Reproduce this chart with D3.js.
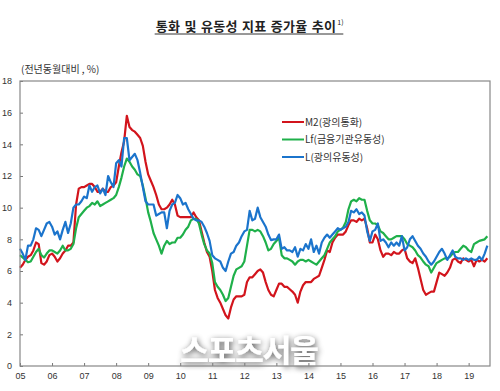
<!DOCTYPE html>
<html>
<head>
<meta charset="utf-8">
<script src="https://cdn.jsdelivr.net/npm/d3@7"></script>
<style>
  body { margin: 0; background: #fff; }
  svg { display: block; font-family: "Noto Sans CJK KR", "Noto Sans", sans-serif; }
  .axis text { font-size: 9px; fill: #333; font-family: "Liberation Sans", Arial, sans-serif; }
  .axis path { display: none; }
  .axis line { stroke: #777; }
</style>
</head>
<body>
<div id="chart"></div>
<script>
// Chart Params
var svgWidth = 500;
var svgHeight = 391;

var margin = { top: 81, right: 10, bottom: 25, left: 20 };
var width = svgWidth - margin.left - margin.right;
var height = svgHeight - margin.top - margin.bottom;

// monthly yoy growth, Jan 2005 .. Aug 2019
var yearLabels = ["05", "06", "07", "08", "09", "10", "11", "12", "13", "14", "15", "16", "17", "18", "19"];
var seriesNames = ["M2(광의통화)", "Lf(금융기관유동성)", "L(광의유동성)"];
var seriesColors = ["#d2141c", "#1fb04a", "#1b74cc"];

var m2 = [
  6.2, 6.4, 6.7, 6.9, 7.0, 7.3, 7.8, 7.7, 6.5, 6.4, 6.6, 7.0,
  7.1, 6.9, 6.6, 6.8, 7.1, 7.3, 7.6, 7.6, 7.8, 10.2, 11.2, 11.3,
  11.3, 11.4, 11.5, 11.5, 11.3, 11.0, 11.0, 11.2, 11.0, 11.0, 11.3, 11.4,
  11.6, 12.6, 13.5, 14.2, 15.8, 15.1, 14.9, 14.8, 14.6, 14.4, 13.9, 12.9,
  12.1, 11.7, 11.3, 10.8, 10.2, 9.9, 9.9, 10.0, 10.2, 10.5, 10.2, 9.5,
  9.4, 9.4, 9.4, 9.4, 9.4, 9.7, 9.4, 9.2, 8.5, 7.8, 7.2, 6.9,
  6.0, 4.8, 4.3, 4.0, 3.6, 3.2, 3.0, 3.7, 4.2, 4.4, 4.4, 4.4,
  4.5, 5.3, 5.6, 5.6, 5.8, 6.0, 6.1, 5.9, 5.3, 4.8, 4.5, 4.4,
  4.8, 5.2, 5.2, 5.0, 5.0, 4.85, 4.7, 4.5, 4.0, 4.7, 5.1, 5.3,
  5.3, 5.3, 5.5, 5.6, 5.7, 6.2, 6.7, 7.3, 7.2, 7.8, 8.1, 8.3,
  8.3, 8.3, 8.5, 8.9, 9.2, 9.2, 9.1, 9.3, 9.2, 9.3, 8.7, 7.8,
  7.8, 8.3, 8.0, 7.3, 6.9, 7.1, 7.1, 7.0, 7.2, 7.1, 7.1, 7.3,
  7.4, 6.8, 6.6, 6.5, 6.8, 6.2, 5.5, 4.8, 4.5, 4.6, 4.7, 4.7,
  5.3, 5.9, 5.8, 5.7, 5.9, 6.2, 6.7, 6.8, 6.6, 6.5, 6.8, 6.7,
  6.6, 6.7, 6.3, 6.7, 6.6, 6.7, 6.6, 6.8
];

var lf = [
  7.0, 6.85, 6.7, 6.55, 6.6, 6.9, 7.2, 7.4, 7.0, 6.85, 7.1, 7.3,
  7.3, 7.2, 7.1, 7.3, 7.6, 7.3, 7.3, 7.4, 7.7, 8.7, 9.4, 9.6,
  9.8, 10.0, 10.1, 10.3, 10.2, 10.4, 10.1, 10.2, 10.3, 10.4, 10.5, 10.6,
  10.8, 11.3, 11.9, 12.6, 13.1, 12.9, 12.6, 12.4, 12.1, 12.0, 11.4, 10.6,
  9.7, 9.1, 8.4, 8.0, 7.6, 7.1, 7.6, 7.9, 7.7, 7.8, 7.8, 8.1,
  8.1, 8.3, 8.6, 8.8, 9.2, 9.3, 9.3, 9.0, 8.3, 7.7, 7.3, 7.1,
  6.5, 5.3, 5.0, 4.8, 4.5, 4.1, 4.3, 5.0, 5.7, 6.1, 6.2, 6.3,
  6.6, 7.6, 8.6, 8.6, 8.5, 8.6, 8.5, 8.2, 7.8, 7.3, 7.4, 7.7,
  7.9, 8.1, 7.0, 6.8, 6.8, 6.7, 6.6, 6.4, 6.6, 6.7, 6.7, 6.6,
  6.7, 6.6, 6.5, 6.4, 6.6, 6.8, 7.0, 7.4, 7.8, 8.0, 8.2, 8.5,
  8.6, 8.75, 9.1, 9.9, 10.4, 10.5, 10.4, 10.6, 10.5, 10.5, 9.8, 9.2,
  9.0, 9.0, 8.9, 8.5, 8.4, 8.2, 8.0, 8.0, 8.1, 8.2, 8.2, 8.2,
  8.0, 7.7, 7.6, 7.5, 7.3, 7.0, 6.85, 6.6, 6.4, 6.3, 5.9, 6.2,
  6.5, 6.6, 6.7, 6.8, 6.8, 6.9, 7.1, 7.2, 7.2, 7.4, 7.6, 7.5,
  7.3, 7.2, 7.7, 7.8, 7.9, 7.95, 8.0, 8.2
];

var lL = [
  7.4, 7.1, 6.7, 7.6, 7.6, 8.0, 8.7, 8.6, 8.2, 8.6, 9.0, 9.1,
  8.8, 8.3, 8.5, 8.0, 8.6, 9.1, 8.4, 9.0, 10.0, 10.2, 10.2, 10.4,
  10.7, 10.6, 11.4, 11.0, 11.3, 11.4, 10.9, 11.2, 10.8, 12.0, 11.6, 11.3,
  12.8, 13.0, 12.6, 14.4, 14.4, 13.0, 13.2, 13.4, 13.0, 12.2, 11.3, 10.4,
  10.2, 10.2, 10.2, 9.5, 9.6, 9.7, 9.7, 8.7, 9.8, 10.2, 10.3, 10.8,
  10.6, 10.2, 10.3, 9.9, 9.6, 9.3, 9.2, 9.2, 9.1, 8.8, 8.4, 7.9,
  7.0, 6.8, 6.7, 6.6, 6.2, 6.0, 6.6, 7.1, 7.2, 7.6, 7.8, 8.2,
  8.5, 8.6, 9.8, 9.2, 9.3, 10.0, 9.4, 9.1, 8.8, 8.3, 7.95, 8.0,
  8.0, 8.3, 7.4, 7.5, 7.3, 7.3, 7.2, 7.5, 6.9, 7.4, 7.3, 7.7,
  7.4, 8.0, 7.2, 7.6, 7.1, 7.8, 8.1, 8.3, 8.1, 8.3, 8.5, 8.7,
  8.6, 8.7, 8.8, 9.1, 9.8, 9.7, 9.9, 9.6, 9.7, 9.5, 8.5, 7.9,
  8.5, 8.6, 9.0, 7.9, 8.0, 7.8, 7.5, 7.8, 7.6, 7.8, 7.6, 8.2,
  7.3, 7.5, 8.0, 8.2, 7.9, 7.6, 7.4, 7.1, 6.9, 6.6, 6.4, 6.6,
  6.9, 7.2, 7.4, 7.1, 6.7, 7.0, 7.3, 6.9, 6.8, 6.8, 6.7, 6.8,
  6.7, 6.8, 6.7, 6.7, 6.9, 6.7, 7.1, 7.6
];

var yTicks = [0, 2, 4, 6, 8, 10, 12, 14, 16, 18];

var svg = d3.select("#chart")
  .append("svg")
  .attr("width", svgWidth)
  .attr("height", svgHeight);

// watermark shadow filter
var defs = svg.append("defs");
var filter = defs.append("filter").attr("id", "wmShadow")
  .attr("x", "-20%").attr("y", "-40%").attr("width", "140%").attr("height", "180%");
filter.append("feGaussianBlur").attr("in", "SourceAlpha").attr("stdDeviation", 3).attr("result", "blur");
filter.append("feOffset").attr("in", "blur").attr("dx", 1).attr("dy", 2).attr("result", "off");
filter.append("feComponentTransfer").attr("in", "off").attr("result", "shadow")
  .append("feFuncA").attr("type", "linear").attr("slope", 0.7);
var merge = filter.append("feMerge");
merge.append("feMergeNode").attr("in", "shadow");
merge.append("feMergeNode").attr("in", "SourceGraphic");

// Title
var title = svg.append("text")
  .attr("x", 246)
  .attr("y", 31)
  .attr("text-anchor", "middle")
  .style("font-size", "13px")
  .style("font-weight", "bold")
  .style("letter-spacing", "0.3px")
  .style("word-spacing", "1px")
  .style("fill", "#222")
  .text("통화 및 유동성 지표 증가율 추이");

var tb = title.node().getBBox();
svg.append("line")
  .attr("x1", tb.x - 1).attr("x2", tb.x + tb.width + 7)
  .attr("y1", 34).attr("y2", 34)
  .attr("stroke", "#333").attr("stroke-width", 1);

svg.append("text")
  .attr("x", tb.x + tb.width + 1)
  .attr("y", 25)
  .style("font-size", "7px")
  .style("fill", "#222")
  .text("1)");

// unit label
svg.append("text")
  .attr("x", 21)
  .attr("y", 73)
  .style("font-size", "10px")
  .style("fill", "#333")
  .text("(전년동월대비 , %)");

var chartGroup = svg.append("g")
  .attr("transform", `translate(${margin.left}, ${margin.top})`);

// scales
var x = d3.scaleLinear()
  .domain([0, 176])
  .range([0, width]);

var y = d3.scaleLinear()
  .domain([0, 18])
  .range([height, 0]);

// watermark
chartGroup.append("text")
  .attr("x", 229)
  .attr("y", height - 4)
  .attr("text-anchor", "middle")
  .attr("filter", "url(#wmShadow)")
  .style("font-size", "31px")
  .style("font-weight", "bold")
  .style("letter-spacing", "-1px")
  .style("fill", "#ffffff")
  .text("스포츠서울");

// axes
var bottomAxis = d3.axisBottom(x)
  .tickValues(yearLabels.map((d, i) => i * 12))
  .tickFormat((d, i) => yearLabels[i])
  .tickSizeInner(-3)
  .tickPadding(7);

var leftAxis = d3.axisLeft(y)
  .tickValues(yTicks)
  .tickSizeInner(-3)
  .tickPadding(8);

chartGroup.append("g")
  .attr("class", "axis")
  .attr("transform", `translate(0, ${height})`)
  .call(bottomAxis);

chartGroup.append("g")
  .attr("class", "axis")
  .call(leftAxis);

// lines
var line = d3.line()
  .x((d, i) => x(i))
  .y(d => y(d));

[m2, lf, lL].forEach(function(data, k) {
  chartGroup.append("path")
    .datum(data)
    .attr("fill", "none")
    .attr("stroke", seriesColors[k])
    .attr("stroke-width", 2.2)
    .attr("stroke-linejoin", "round")
    .attr("d", line);
});

// frame
chartGroup.append("rect")
  .attr("x", 0).attr("y", 0)
  .attr("width", width).attr("height", height)
  .attr("fill", "none")
  .attr("stroke", "#888")
  .attr("stroke-width", 1.2);

// legend
var legend = chartGroup.append("g")
  .attr("transform", "translate(262, 41)");

seriesNames.forEach(function(name, k) {
  var row = legend.append("g").attr("transform", `translate(0, ${k * 17.5})`);
  row.append("line")
    .attr("x1", 0).attr("x2", 22)
    .attr("stroke", seriesColors[k])
    .attr("stroke-width", 2);
  row.append("text")
    .attr("x", 23)
    .attr("y", 3.5)
    .style("font-size", "10px")
    .style("fill", "#333")
    .text(name);
});
</script>
</body>
</html>
